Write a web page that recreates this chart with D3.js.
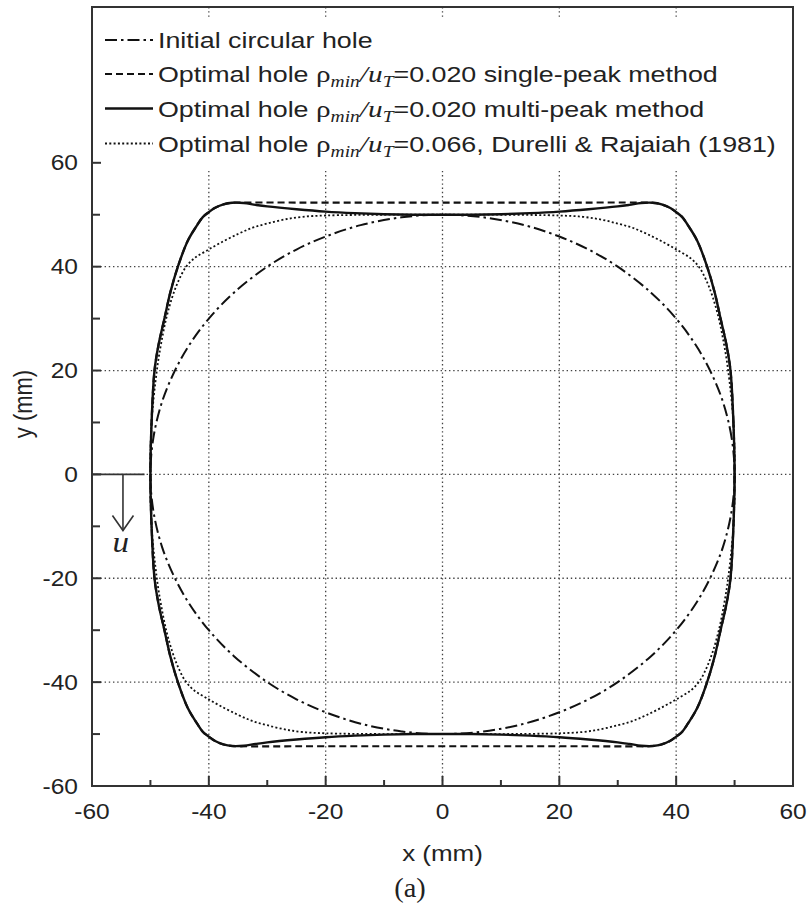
<!DOCTYPE html>
<html>
<head>
<meta charset="utf-8">
<title>Optimal hole shapes</title>
<script src="https://d3js.org/d3.v7.min.js"></script>
<style>
  body { margin: 0; background: #fff; }
  text { font-family: Arial, "Liberation Sans", sans-serif; fill: #222; }
  .grid { stroke: #444; stroke-width: 1.3; stroke-dasharray: 1.4,2.8; fill: none; }
  .curve { fill: none; stroke: #111; }
  .serif { font-family: "Liberation Serif", "DejaVu Serif", serif; }
</style>
</head>
<body>
<script>
// tick values
const xTicks = [-60, -40, -20, 0, 20, 40, 60];
const yTicks = [-60, -40, -20, 0, 20, 40, 60];
const xMinor = [-50, -30, -10, 10, 30, 50];
const yMinor = [-50, -30, -10, 10, 30, 50];
const gridX = [-40, -20, 0, 20, 40];
const gridY = [-40, -20, 0, 20, 40];

// contours, (x, y) in mm
const circleHole = [
  [50,0],[49.5,7],[48,14],[45.8,20],[43.3,25],[40,30],[35.7,35],[30,40],[25,43.3],[20,45.8],[14,48],[7,49.5],[0,50],
  [-7,49.5],[-14,48],[-20,45.8],[-25,43.3],[-30,40],[-35.7,35],[-40,30],[-43.3,25],[-45.8,20],[-48,14],[-49.5,7],[-50,0],
  [-49.5,-7],[-48,-14],[-45.8,-20],[-43.3,-25],[-40,-30],[-35.7,-35],[-30,-40],[-25,-43.3],[-20,-45.8],[-14,-48],[-7,-49.5],[0,-50],
  [7,-49.5],[14,-48],[20,-45.8],[25,-43.3],[30,-40],[35.7,-35],[40,-30],[43.3,-25],[45.8,-20],[48,-14],[49.5,-7]
];

const singlePeak = [
  [50,0],[49.8,10],[49.3,20],[48.6,25],[47.6,30],[46.6,35],[45.3,40],[43.6,45],[42,48],[41,49.6],[40,50.5],[39,51.3],[37.5,52],[36,52.3],
  [33,52.35],[25,52.35],[15,52.35],[5,52.35],[-5,52.35],[-15,52.35],[-25,52.35],[-33,52.35],
  [-36,52.3],[-37.5,52],[-39,51.3],[-40,50.5],[-41,49.6],[-42,48],[-43.6,45],[-45.3,40],[-46.6,35],[-47.6,30],[-48.6,25],[-49.3,20],[-49.8,10],[-50,0],
  [-49.8,-10],[-49.3,-20],[-48.6,-25],[-47.6,-30],[-46.6,-35],[-45.3,-40],[-43.6,-45],[-42,-48],[-41,-49.6],[-40,-50.5],[-39,-51.3],[-37.5,-52],[-36,-52.3],
  [-33,-52.35],[-25,-52.35],[-15,-52.35],[-5,-52.35],[5,-52.35],[15,-52.35],[25,-52.35],[33,-52.35],
  [36,-52.3],[37.5,-52],[39,-51.3],[40,-50.5],[41,-49.6],[42,-48],[43.6,-45],[45.3,-40],[46.6,-35],[47.6,-30],[48.6,-25],[49.3,-20],[49.8,-10]
];

const multiPeak = [
  [50,0],[49.8,10],[49.3,20],[48.6,25],[47.6,30],[46.6,35],[45.3,40],[43.6,45],[42,48],[41,49.6],[40,50.5],[39,51.3],[37.5,52],[36,52.3],
  [34,52.25],[32,51.9],[30,51.6],[25,51.05],[20,50.6],[15,50.3],[10,50.1],[5,50],[0,50],
  [-5,50],[-10,50.1],[-15,50.3],[-20,50.6],[-25,51.05],[-30,51.6],[-32,51.9],[-34,52.25],
  [-36,52.3],[-37.5,52],[-39,51.3],[-40,50.5],[-41,49.6],[-42,48],[-43.6,45],[-45.3,40],[-46.6,35],[-47.6,30],[-48.6,25],[-49.3,20],[-49.8,10],[-50,0],
  [-49.8,-10],[-49.3,-20],[-48.6,-25],[-47.6,-30],[-46.6,-35],[-45.3,-40],[-43.6,-45],[-42,-48],[-41,-49.6],[-40,-50.5],[-39,-51.3],[-37.5,-52],[-36,-52.3],
  [-34,-52.25],[-32,-51.9],[-30,-51.6],[-25,-51.05],[-20,-50.6],[-15,-50.3],[-10,-50.1],[-5,-50],[0,-50],
  [5,-50],[10,-50.1],[15,-50.3],[20,-50.6],[25,-51.05],[30,-51.6],[32,-51.9],[34,-52.25],
  [36,-52.3],[37.5,-52],[39,-51.3],[40,-50.5],[41,-49.6],[42,-48],[43.6,-45],[45.3,-40],[46.6,-35],[47.6,-30],[48.6,-25],[49.3,-20],[49.8,-10]
];

const durelli = [
  [50,0],[49.8,10],[48.9,20],[48.2,25],[47.3,30],[46.3,34],[45.3,37],[44,39.8],[42.5,41.6],[40.5,43],[38,44.6],[35,46.3],[32.5,47.5],[30,48.3],[27,49.1],[24,49.6],[20,49.85],[10,50],[0,50],
  [-10,50],[-20,49.85],[-24,49.6],[-27,49.1],[-30,48.3],[-32.5,47.5],[-35,46.3],[-38,44.6],[-40.5,43],[-42.5,41.6],[-44,39.8],[-45.3,37],[-46.3,34],[-47.3,30],[-48.2,25],[-48.9,20],[-49.8,10],[-50,0],
  [-49.8,-10],[-48.9,-20],[-48.2,-25],[-47.3,-30],[-46.3,-34],[-45.3,-37],[-44,-39.8],[-42.5,-41.6],[-40.5,-43],[-38,-44.6],[-35,-46.3],[-32.5,-47.5],[-30,-48.3],[-27,-49.1],[-24,-49.6],[-20,-49.85],[-10,-50],[0,-50],
  [10,-50],[20,-49.85],[24,-49.6],[27,-49.1],[30,-48.3],[32.5,-47.5],[35,-46.3],[38,-44.6],[40.5,-43],[42.5,-41.6],[44,-39.8],[45.3,-37],[46.3,-34],[47.3,-30],[48.2,-25],[48.9,-20],[49.8,-10]
];

const seriesNames = ["circle", "single", "multi", "durelli"];
const seriesData = [circleHole, singlePeak, multiPeak, durelli];
const legendParams = [null, "0.020 single-peak method", "0.020 multi-peak method", "0.066, Durelli & Rajaiah (1981)"];

// styles
const styles = {
  circle:  { dash: "12,4,2.5,4", width: 2 },
  single:  { dash: "7,4", width: 2.2 },
  multi:   { dash: null, width: 2.4 },
  durelli: { dash: "2,2.3", width: 1.8 }
};

const W = 810, H = 908;
const mLeft = 92, mRight = 793, mTop = 7, mBottom = 786;
const sx = 1.18; // the original figure is a bit wider than tall, text too

const svg = d3.select("body").append("svg")
  .attr("width", W).attr("height", H);

const x = d3.scaleLinear().domain([-60, 60]).range([mLeft, mRight]);
const y = d3.scaleLinear().domain([-60, 90]).range([mBottom, mTop]);

// text with a horizontal stretch, anchored at (px, py)
function stext(px, py, size, stretch) {
  return svg.append("text")
    .attr("transform", `translate(${px},${py}) scale(${stretch},1)`)
    .attr("font-size", size);
}

// grid
svg.append("g").selectAll("line").data(gridX).join("line")
  .attr("class", "grid")
  .attr("x1", d => x(d)).attr("x2", d => x(d))
  .attr("y1", mTop).attr("y2", mBottom);
svg.append("g").selectAll("line").data(gridY).join("line")
  .attr("class", "grid")
  .attr("x1", mLeft).attr("x2", mRight)
  .attr("y1", d => y(d)).attr("y2", d => y(d));

// legend background hides grid
svg.append("rect")
  .attr("x", mLeft + 1).attr("y", 17)
  .attr("width", mRight - mLeft - 2).attr("height", 154)
  .attr("fill", "#fff");

// curves
const line = d3.line()
  .x(d => x(d[0])).y(d => y(d[1]))
  .curve(d3.curveCatmullRomClosed.alpha(0.5));

seriesNames.forEach((name, i) => {
  svg.append("path")
    .attr("class", "curve")
    .attr("d", line(seriesData[i]))
    .attr("stroke-width", styles[name].width)
    .attr("stroke-dasharray", styles[name].dash);
});

// u arrow
svg.append("line")
  .attr("x1", x(-60)).attr("x2", x(-51))
  .attr("y1", y(0)).attr("y2", y(0))
  .attr("stroke", "#333").attr("stroke-width", 1.6);
svg.append("line")
  .attr("x1", x(-54.7)).attr("x2", x(-54.7))
  .attr("y1", y(0)).attr("y2", y(-10.8))
  .attr("stroke", "#333").attr("stroke-width", 1.6);
svg.append("path")
  .attr("d", d3.line()([[x(-56.5), y(-7.9)], [x(-54.7), y(-10.8)], [x(-52.9), y(-7.9)]]))
  .attr("fill", "none").attr("stroke", "#333").attr("stroke-width", 1.6);
stext(x(-55.1), 552, 30, 1.1)
  .attr("class", "serif")
  .attr("text-anchor", "middle").attr("font-style", "italic")
  .text("u");

// frame
svg.append("rect")
  .attr("x", mLeft).attr("y", mTop)
  .attr("width", mRight - mLeft).attr("height", mBottom - mTop)
  .attr("fill", "none").attr("stroke", "#333").attr("stroke-width", 2);

// ticks (inward)
const tk = svg.append("g").attr("stroke", "#333").attr("stroke-width", 2);
tk.selectAll(".xt").data(xTicks.slice(1, -1)).join("line")
  .attr("x1", d => x(d)).attr("x2", d => x(d))
  .attr("y1", mBottom).attr("y2", mBottom - 10);
tk.selectAll(".xm").data(xMinor).join("line")
  .attr("x1", d => x(d)).attr("x2", d => x(d))
  .attr("y1", mBottom).attr("y2", mBottom - 6);
tk.selectAll(".yt").data(yTicks.slice(1)).join("line")
  .attr("x1", mLeft).attr("x2", mLeft + 9)
  .attr("y1", d => y(d)).attr("y2", d => y(d));
tk.selectAll(".ym").data(yMinor).join("line")
  .attr("x1", mLeft).attr("x2", mLeft + 8)
  .attr("y1", d => y(d)).attr("y2", d => y(d));

// tick labels
xTicks.forEach(d => {
  stext(x(d), mBottom + 33, 21.5, 1.14).attr("text-anchor", "middle").text(d);
});
yTicks.forEach(d => {
  stext(mLeft - 14, y(d) + 7.5, 21.5, 1.14).attr("text-anchor", "end").text(d);
});

// axis titles
stext(x(0), 861, 22, sx).attr("text-anchor", "middle").text("x (mm)");
svg.append("text")
  .attr("transform", `translate(32,404) scale(${sx},1) rotate(-90)`)
  .attr("text-anchor", "middle").attr("font-size", 22)
  .text("y (mm)");
stext(410, 897, 27, 1.05)
  .attr("class", "serif")
  .attr("text-anchor", "middle")
  .text("(a)");

// legend
const legY = [40, 74, 108.5, 143.5];
seriesNames.forEach((name, i) => {
  const ly = legY[i];
  svg.append("line")
    .attr("x1", 105).attr("x2", 153)
    .attr("y1", ly).attr("y2", ly)
    .attr("stroke", "#111")
    .attr("stroke-width", styles[name].width)
    .attr("stroke-dasharray", styles[name].dash);
  const t = stext(158, ly + 8, 22, 1.22);
  if (i === 0) {
    t.text("Initial circular hole");
    return;
  }
  t.append("tspan").text("Optimal hole ");
  t.append("tspan").attr("class", "serif").attr("font-size", 24).text("\u03c1");
  t.append("tspan").attr("class", "serif").attr("font-style", "italic")
    .attr("font-size", 16).attr("dy", 5).text("min");
  t.append("tspan").attr("class", "serif").attr("font-style", "italic")
    .attr("font-size", 24).attr("dy", -5).text("/u");
  t.append("tspan").attr("class", "serif").attr("font-style", "italic")
    .attr("font-size", 16).attr("dy", 5).text("T");
  t.append("tspan").attr("dy", -5).text("=" + legendParams[i]);
});
</script>
</body>
</html>
